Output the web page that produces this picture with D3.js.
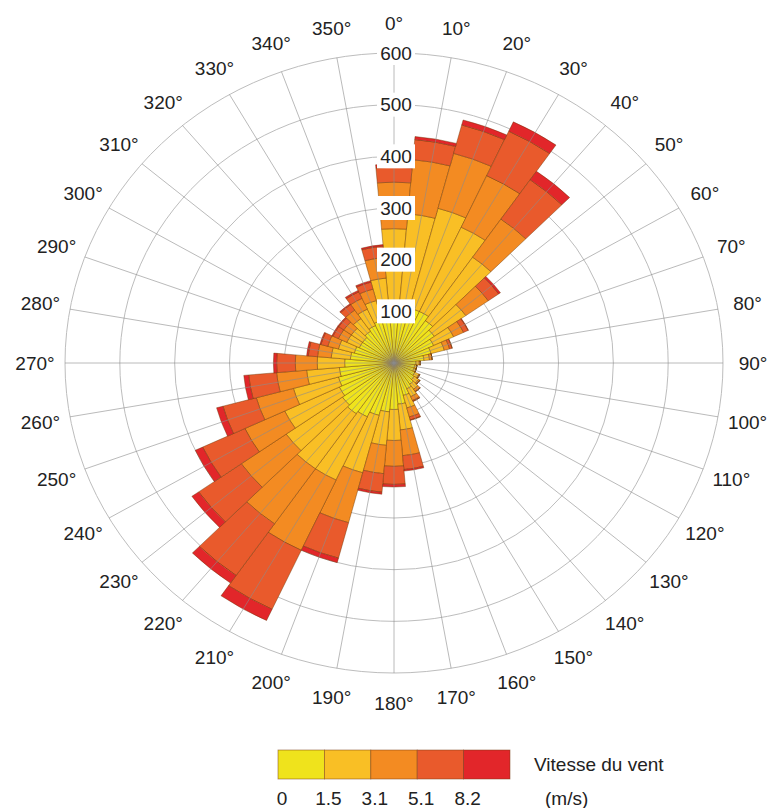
<!DOCTYPE html>
<html>
<head>
<meta charset="utf-8">
<script src="https://cdn.jsdelivr.net/npm/d3@7"></script>
<style>
  body { margin: 0; background: #fff; }
  svg { display: block; font-family: Arial, "Liberation Sans", sans-serif; }
</style>
</head>
<body>
<div id="chart"></div>
<script>
// directions (deg, clockwise from north), one 10 deg sector each
var directions = [0, 10, 20, 30, 40, 50, 60, 70, 80, 90, 100, 110, 120, 130, 140, 150, 160, 170,
                  180, 190, 200, 210, 220, 230, 240, 250, 260, 270, 280, 290, 300, 310, 320, 330, 340, 350];

// counts per wind speed class
var speed0to15  = [100, 105, 110, 110, 100, 90, 80, 70, 55, 40, 38, 38, 42, 45, 50, 55, 65, 80,
                   90, 95, 105, 115, 120, 115, 110, 105, 100, 90, 80, 75, 70, 70, 75, 80, 85, 95];
var speed15to31 = [160, 185, 200, 180, 150, 70, 40, 25, 10, 6, 4, 4, 8, 10, 12, 17, 25, 50,
                   60, 65, 115, 135, 130, 125, 110, 85, 60, 50, 35, 30, 25, 25, 30, 35, 40, 70];
var speed31to51 = [90, 105, 110, 110, 90, 50, 20, 10, 5, 2, 0, 0, 2, 3, 5, 8, 18, 50,
                   50, 55, 100, 150, 130, 100, 80, 70, 55, 40, 25, 20, 17, 17, 20, 23, 23, 40];
var speed51to82 = [29, 39, 57, 95, 93, 23, 9, 5, 0, 0, 0, 0, 0, 0, 1, 2, 6, 27,
                   35, 36, 71, 126, 122, 95, 85, 63, 51, 34, 17, 13, 11, 11, 13, 14, 14, 22];
var speedOver82 = [6, 6, 10, 20, 20, 4, 1, 0, 0, 0, 0, 0, 0, 0, 0, 0, 1, 3,
                   5, 4, 9, 24, 18, 15, 15, 12, 9, 6, 3, 2, 2, 2, 2, 3, 3, 3];

var radialTicks = [100, 200, 300, 400, 500, 600];
var speedLabels = ["0", "1.5", "3.1", "5.1", "8.2"];
var speedColors = ["#efe31c", "#f9bf25", "#f38b22", "#e95a2c", "#e2262a"];

var width = 776, height = 808;
var cx = 394, cy = 363;
var ry = 310, rx = 329;

var keys = ["s1", "s2", "s3", "s4", "s5"];
var rows = directions.map(function(d, i) {
  return { dir: d, s1: speed0to15[i], s2: speed15to31[i], s3: speed31to51[i],
           s4: speed51to82[i], s5: speedOver82[i] };
});
var series = d3.stack().keys(keys)(rows);

var r = d3.scaleLinear().domain([0, 600]).range([0, ry]);
var rad = Math.PI / 180;

var svg = d3.select("#chart")
  .append("svg")
  .attr("width", width)
  .attr("height", height);

// polar plot is a bit wider than tall
var g = svg.append("g")
  .attr("transform", "translate(" + cx + "," + cy + ") scale(" + (rx / ry) + ",1)");

g.selectAll("circle.ring")
  .data(radialTicks)
  .enter().append("circle")
  .attr("class", "ring")
  .attr("r", function(d) { return r(d); })
  .attr("fill", "none")
  .attr("stroke", "#bdbdbd")
  .attr("stroke-width", 1)
  .attr("vector-effect", "non-scaling-stroke");

var arc = d3.arc();

g.selectAll("g.layer")
  .data(series)
  .enter().append("g")
  .attr("class", "layer")
  .attr("fill", function(d, i) { return speedColors[i]; })
  .selectAll("path")
  .data(function(d) { return d; })
  .enter().append("path")
  .attr("d", function(d) {
    return arc({
      innerRadius: r(d[0]),
      outerRadius: r(d[1]),
      startAngle: (d.data.dir - 5) * rad,
      endAngle: (d.data.dir + 5) * rad
    });
  })
  .attr("stroke", "rgba(100,50,0,0.6)")
  .attr("stroke-width", 0.7)
  .attr("vector-effect", "non-scaling-stroke");

// spokes drawn over the bars
g.selectAll("line.spoke")
  .data(directions)
  .enter().append("line")
  .attr("class", "spoke")
  .attr("x1", 0)
  .attr("y1", 0)
  .attr("x2", function(d) { return r(600) * Math.sin(d * rad); })
  .attr("y2", function(d) { return -r(600) * Math.cos(d * rad); })
  .attr("stroke", "#8c8c8c")
  .attr("stroke-opacity", 0.6)
  .attr("stroke-width", 1)
  .attr("vector-effect", "non-scaling-stroke");

// direction labels
svg.selectAll("text.dir")
  .data(directions)
  .enter().append("text")
  .attr("class", "dir")
  .attr("x", function(d) { return cx + (rx + 30) * Math.sin(d * rad); })
  .attr("y", function(d) { return cy - (ry + 30) * Math.cos(d * rad); })
  .attr("text-anchor", "middle")
  .attr("dominant-baseline", "central")
  .style("font-size", "19px")
  .style("fill", "#222")
  .text(function(d) { return d + "\u00b0"; });

// radial tick labels on white boxes
var tick = svg.selectAll("g.tick")
  .data(radialTicks)
  .enter().append("g")
  .attr("class", "tick")
  .attr("transform", function(d) { return "translate(" + (cx + 2) + "," + (cy - r(d)) + ")"; });

tick.append("rect")
  .attr("x", -19)
  .attr("y", -12)
  .attr("width", 38)
  .attr("height", 24)
  .attr("fill", "#fff");

tick.append("text")
  .attr("text-anchor", "middle")
  .attr("dominant-baseline", "central")
  .style("font-size", "19px")
  .style("fill", "#222")
  .text(function(d) { return d; });

// legend
var lx = d3.scaleLinear().domain([0, 5]).range([278, 510]);
var legend = svg.append("g");

legend.selectAll("rect")
  .data(speedColors)
  .enter().append("rect")
  .attr("x", function(d, i) { return lx(i); })
  .attr("y", 750)
  .attr("width", lx(1) - lx(0))
  .attr("height", 29)
  .attr("fill", function(d) { return d; })
  .attr("stroke", "rgba(120,60,20,0.6)")
  .attr("stroke-width", 0.8);

legend.selectAll("text.speed")
  .data(speedLabels)
  .enter().append("text")
  .attr("class", "speed")
  .attr("x", function(d, i) { return lx(i) + 4; })
  .attr("y", 805)
  .attr("text-anchor", "middle")
  .style("font-size", "19px")
  .style("fill", "#222")
  .text(function(d) { return d; });

legend.append("text")
  .attr("x", 545)
  .attr("y", 805)
  .style("font-size", "19px")
  .style("fill", "#222")
  .text("(m/s)");

legend.append("text")
  .attr("x", 534)
  .attr("y", 771)
  .style("font-size", "19px")
  .style("fill", "#222")
  .text("Vitesse du vent");
</script>
</body>
</html>
